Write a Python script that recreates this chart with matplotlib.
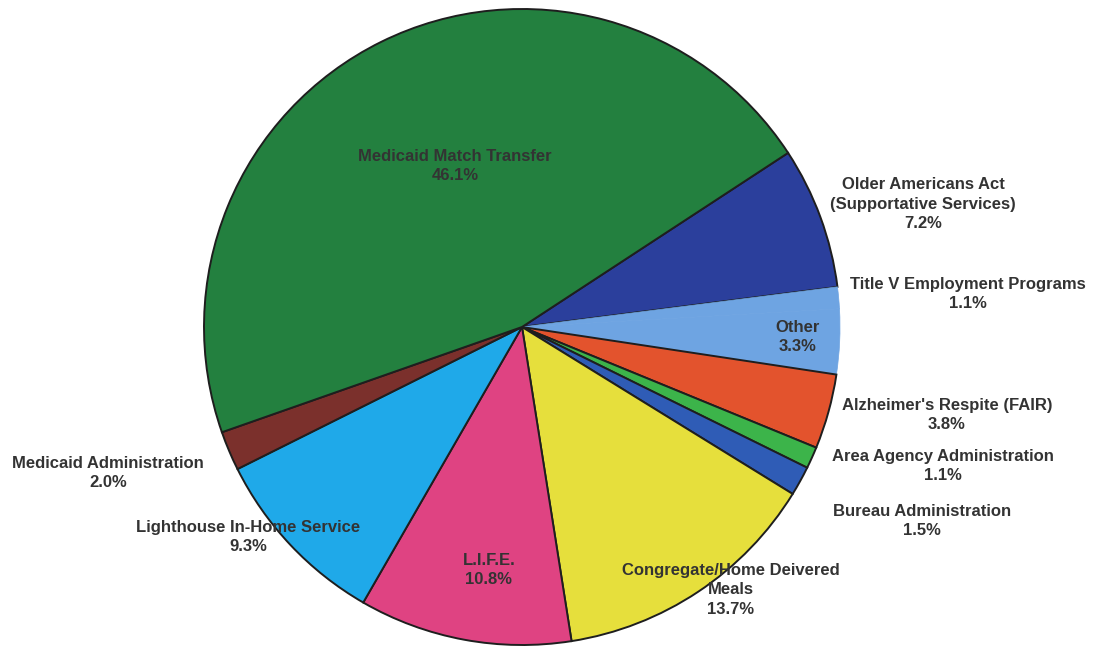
import matplotlib
matplotlib.use("Agg")
import matplotlib.pyplot as plt

categories = ["Older Americans Act\n(Supportative Services)", "Title V Employment Programs",
              "Other", "Alzheimer's Respite (FAIR)", "Area Agency Administration",
              "Bureau Administration", "Congregate/Home Deivered\nMeals", "L.I.F.E.",
              "Lighthouse In-Home Service", "Medicaid Administration", "Medicaid Match Transfer"]
values = [7.2, 1.1, 3.3, 3.8, 1.1, 1.5, 13.7, 10.8, 9.3, 2.0, 46.1]
colors = ["#2b3f9c", "#6ea4e2", "#6ea4e2", "#e3532d", "#3cb44a", "#2f5cb6",
          "#e6df3c", "#df4382", "#1fa9e9", "#7b302c", "#23803f"]

# label positions in pixel space (x, y from top)
label_pos = [(923, 204), (968, 294), (798, 337), (947, 415), (943, 466), (922, 521),
             (731, 590), (489, 570), (248, 537), (108, 473), (455, 166)]

W, H = 1098, 648
fig = plt.figure(figsize=(W / 100, H / 100), dpi=100)
ax = fig.add_axes([0, 0, 1, 1])

cx, cy, r = 522, H - 327, 318
wedges, _ = ax.pie(values, colors=colors, startangle=33.2, counterclock=False,
                   center=(cx, cy), radius=r, frame=True,
                   wedgeprops=dict(edgecolor="#1e1e1e", linewidth=1.4))
ax.set_xlim(0, W)
ax.set_ylim(0, H)
ax.set_aspect("equal")
ax.axis("off")
# Title V and Other share one colour and show no dividing line
for i in (1, 2):
    wedges[i].set_edgecolor(colors[i])
    wedges[i].set_linewidth(0.5)

for lab, v, (x, y) in zip(categories, values, label_pos):
    ax.text(x, H - y, f"{lab}\n{v:.1f}%", ha="center", va="center",
            fontsize=12, fontweight="bold", color="#333333",
            family="Liberation Sans", linespacing=1.4)

fig.savefig("out.png", dpi=100)
